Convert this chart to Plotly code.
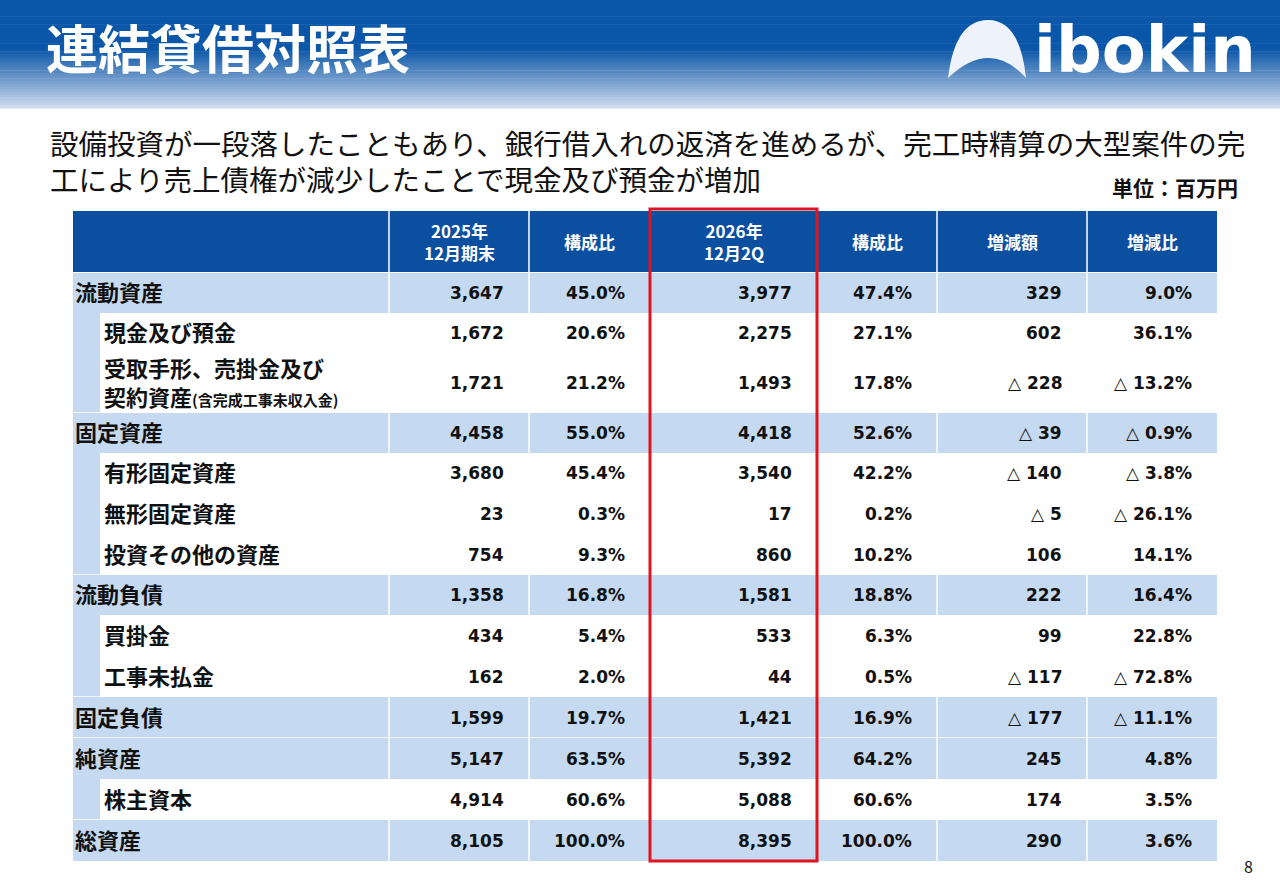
import plotly.graph_objects as go

title = '連結貸借対照表'
subtitle = ['設備投資が一段落したこともあり、銀行借入れの返済を進めるが、完工時精算の大型案件の完',
            '工により売上債権が減少したことで現金及び預金が増加']
unit = '単位：百万円'

headers = ['2025年<br>12月期末', '構成比', '2026年<br>12月2Q', '構成比', '増減額', '増減比']
labels = ['流動資産', '現金及び預金',
          '受取手形、売掛金及び<br>契約資産<span style="font-size:15px">(含完成工事未収入金)</span>',
          '固定資産', '有形固定資産', '無形固定資産', '投資その他の資産',
          '流動負債', '買掛金', '工事未払金', '固定負債', '純資産', '株主資本', '総資産']
level = [0, 1, 1, 0, 1, 1, 1, 0, 1, 1, 0, 0, 1, 0]
v2025 = ['3,647', '1,672', '1,721', '4,458', '3,680', '23', '754', '1,358', '434', '162', '1,599', '5,147', '4,914', '8,105']
r2025 = ['45.0%', '20.6%', '21.2%', '55.0%', '45.4%', '0.3%', '9.3%', '16.8%', '5.4%', '2.0%', '19.7%', '63.5%', '60.6%', '100.0%']
v2026 = ['3,977', '2,275', '1,493', '4,418', '3,540', '17', '860', '1,581', '533', '44', '1,421', '5,392', '5,088', '8,395']
r2026 = ['47.4%', '27.1%', '17.8%', '52.6%', '42.2%', '0.2%', '10.2%', '18.8%', '6.3%', '0.5%', '16.9%', '64.2%', '60.6%', '100.0%']
diff = ['329', '602', '△ 228', '△ 39', '△ 140', '△ 5', '106', '222', '99', '△ 117', '△ 177', '245', '174', '290']
diffp = ['9.0%', '36.1%', '△ 13.2%', '△ 0.9%', '△ 3.8%', '△ 26.1%', '14.1%', '16.4%', '22.8%', '△ 72.8%', '△ 11.1%', '4.8%', '3.5%', '3.6%']

# layout geometry (pixels)
col_x = [73, 389, 529, 650, 817, 937, 1087, 1217]
row_h = [40, 40, 60, 40, 40, 41, 41, 40, 41, 41, 41, 41, 41, 41]
top = 273
FONT = 'Noto Sans CJK JP'
NUM = 'DejaVu Sans'
DARK = '#0b4fa0'
LIGHT = '#c5d9f1'

shapes = []
ann = []

# header gradient band
n = 40
for i in range(n):
    t = i / (n - 1)
    k = max(0.0, (t - 0.45) / 0.55)
    r = int(10 + (205 - 10) * k)
    g = int(86 + (217 - 86) * k)
    b = int(168 + (236 - 168) * k)
    shapes.append(dict(type='rect', x0=0, x1=1280, y0=i * 108 / n, y1=(i + 1) * 108 / n + 0.5,
                       fillcolor=f'rgb({r},{g},{b})', line_width=0, layer='below'))

ann.append(dict(x=44, y=46, text=f'<b>{title}</b>', xanchor='left', yanchor='middle',
                font=dict(size=52, color='white', family=FONT)))
# logo
shapes.append(dict(type='path', path='M 948 78 Q 955 20 988 20 Q 1020 20 1026 78 Q 990 38 948 78 Z',
                   fillcolor='#eef3fb', line_width=0))
ann.append(dict(x=1258, y=50, text='<b>ibokin</b>', xanchor='right', yanchor='middle',
                font=dict(size=64, color='white', family='DejaVu Sans')))

for i, s in enumerate(subtitle):
    ann.append(dict(x=48, y=142 + i * 36, text=s, xanchor='left', yanchor='middle',
                    font=dict(size=28.5, color='#111', family=FONT)))
ann.append(dict(x=1240, y=187, text=f'<b>{unit}</b>', xanchor='right', yanchor='middle',
                font=dict(size=21, color='#111', family=FONT)))

# header row
shapes.append(dict(type='rect', x0=col_x[0], x1=col_x[-1], y0=211, y1=272, fillcolor=DARK, line_width=0))
for j in range(1, len(col_x) - 1):
    shapes.append(dict(type='line', x0=col_x[j], x1=col_x[j], y0=211, y1=272, line=dict(color='white', width=1.5)))
for j, h in enumerate(headers):
    ann.append(dict(x=(col_x[j + 1] + col_x[j + 2]) / 2, y=241.5, text=f'<b>{h}</b>', showarrow=False,
                    xanchor='center', yanchor='middle', font=dict(size=17, color='white', family=FONT)))

cols = [v2025, r2025, v2026, r2026, diff, diffp]
y = top
for i, lab in enumerate(labels):
    h = row_h[i]
    if level[i] == 0:
        shapes.append(dict(type='rect', x0=col_x[0], x1=col_x[-1], y0=y, y1=y + h, fillcolor=LIGHT, line_width=0))
        for j in range(1, len(col_x) - 1):
            shapes.append(dict(type='line', x0=col_x[j], x1=col_x[j], y0=y, y1=y + h, line=dict(color='white', width=1.5)))
        lx = 73
    else:
        shapes.append(dict(type='rect', x0=col_x[0], x1=100, y0=y, y1=y + h, fillcolor=LIGHT, line_width=0))
        lx = 102
    if i < len(labels) - 1 and level[i + 1] == 0:
        shapes.append(dict(type='line', x0=col_x[0], x1=col_x[-1], y0=y + h, y1=y + h, line=dict(color='white', width=1.5)))
    ann.append(dict(x=lx, y=y + h / 2 - 2, text=f'<b>{lab}</b>', xanchor='left', yanchor='middle', align='left',
                    font=dict(size=22, color='#111', family=FONT)))
    for j, c in enumerate(cols):
        ann.append(dict(x=col_x[j + 2] - 23, y=y + h / 2, text=f'<b>{c[i]}</b>', xanchor='right', yanchor='middle',
                        font=dict(size=17, color='#111', family=NUM)))
    y += h

# highlight box
shapes.append(dict(type='rect', x0=650, x1=817, y0=209, y1=y, line=dict(color='#e0141e', width=3)))
ann.append(dict(x=1255, y=866, text='8', xanchor='right', yanchor='middle', font=dict(size=16, color='#111', family=FONT)))

for a in ann:
    a.setdefault('showarrow', False)
    a['xref'] = 'x'
    a['yref'] = 'y'
for s in shapes:
    s['xref'] = 'x'
    s['yref'] = 'y'

fig = go.Figure()
fig.update_layout(width=1280, height=886, margin=dict(l=0, r=0, t=0, b=0),
                  paper_bgcolor='white', plot_bgcolor='white', shapes=shapes, annotations=ann,
                  xaxis=dict(range=[0, 1280], visible=False, fixedrange=True),
                  yaxis=dict(range=[886, 0], visible=False, fixedrange=True),
                  showlegend=False)
fig.write_html('out.html', config={'displayModeBar': False},
               post_script="document.body.style.margin='0';document.body.style.padding='0';")
